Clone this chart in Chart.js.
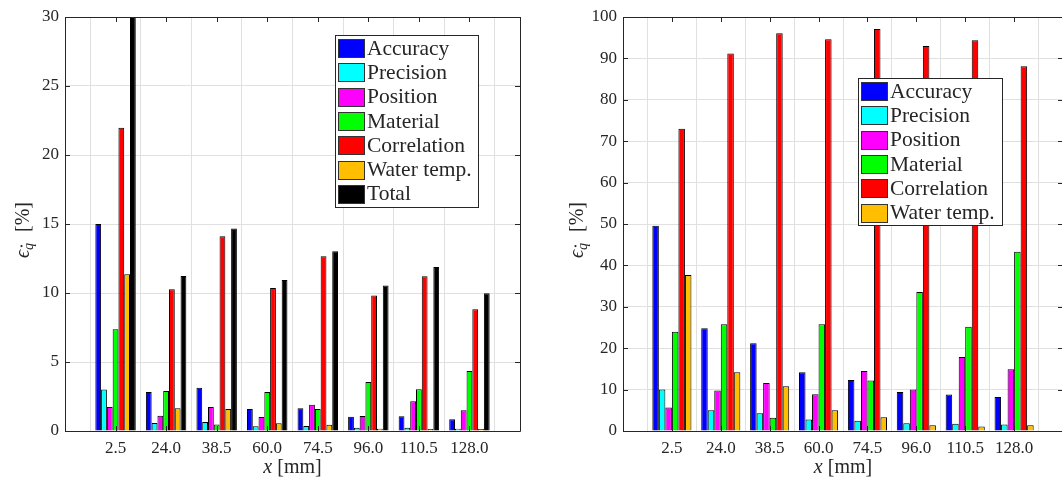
<!DOCTYPE html>
<html>
<head>
<meta charset="utf-8">
<script src="https://cdn.jsdelivr.net/npm/chart.js@4"></script>
<style>
  html, body { margin: 0; padding: 0; background: #fff; overflow: hidden; }
  #wrap { position: relative; width: 1062px; height: 479px; overflow: hidden; }
  .panel { position: absolute; top: 0; }
  #leftPanel { left: 0; }
  #rightPanel { left: 540px; }
</style>
</head>
<body>
<div id="wrap">
  <div class="panel" id="leftPanel"><canvas id="left" width="540" height="479"></canvas></div>
  <div class="panel" id="rightPanel"><canvas id="right" width="530" height="479"></canvas></div>
</div>
<script>
const xLabels = ['2.5', '24.0', '38.5', '60.0', '74.5', '96.0', '110.5', '128.0'];
const seriesNames = ['Accuracy', 'Precision', 'Position', 'Material', 'Correlation', 'Water temp.', 'Total'];
const seriesColors = ['#0000ff', '#00ffff', '#ff00ff', '#00ff00', '#ff0000', '#ffbf00', '#000000'];

// left panel, y in %
const accuracyL = [15.0, 2.83, 3.14, 1.60, 1.64, 1.04, 1.06, 0.85];
const precisionL = [3.0, 0.58, 0.65, 0.34, 0.36, 0.24, 0.24, 0.17];
const positionL = [1.74, 1.11, 1.74, 1.02, 1.91, 1.09, 2.15, 1.50];
const materialL = [7.37, 2.90, 0.48, 2.83, 1.60, 3.55, 3.02, 4.35];
const correlationL = [21.97, 10.27, 14.12, 10.37, 12.67, 9.81, 11.22, 8.82];
const waterL = [11.36, 1.64, 1.60, 0.56, 0.46, 0.17, 0.15, 0.15];
const totalL = [30.1, 11.24, 14.67, 10.95, 13.03, 10.54, 11.89, 9.98];

// right panel, y in %
const accuracyR = [49.6, 24.8, 21.2, 14.2, 12.3, 9.4, 8.8, 8.2];
const precisionR = [10.0, 5.0, 4.3, 2.8, 2.5, 1.85, 1.77, 1.6];
const positionR = [5.7, 9.8, 11.6, 8.9, 14.5, 10.0, 17.9, 14.9];
const materialR = [24.0, 25.8, 3.2, 25.8, 12.2, 33.6, 25.2, 43.3];
const correlationR = [73.0, 91.2, 96.1, 94.6, 97.1, 93.0, 94.4, 88.1];
const waterR = [37.7, 14.2, 10.8, 5.0, 3.3, 1.37, 1.1, 1.37];

const yTicksL = { max: 30, step: 5 };
const yTicksR = { max: 100, step: 10 };

const FONT = "'Liberation Serif', 'DejaVu Serif', serif";
const INK = '#262626';

// one empty slot each side so the first/last group sits a full step in from the box
const pad = arr => [null, ...arr, null];

function makeDatasets(series) {
  return series.map((d, i) => ({
    label: seriesNames[i],
    data: pad(d),
    backgroundColor: seriesColors[i],
    borderColor: '#000',
    borderWidth: 1,
    barPercentage: 1.0,
    categoryPercentage: 0.8,
    clip: 0
  }));
}

const frame = {
  id: 'frame',
  afterDraw(chart, args, opts) {
    const { ctx, chartArea: a, scales } = chart;
    ctx.save();

    // box + inward ticks
    ctx.strokeStyle = INK;
    ctx.lineWidth = 1;
    ctx.beginPath();
    ctx.rect(Math.round(a.left) + 0.5, Math.round(a.top) + 0.5, Math.round(a.width), Math.round(a.height));
    const tl = 5;
    scales.x.ticks.forEach((t, i) => {
      const px = Math.round(scales.x.getPixelForTick(i)) + 0.5;
      ctx.moveTo(px, a.top); ctx.lineTo(px, a.top + tl);
      ctx.moveTo(px, a.bottom); ctx.lineTo(px, a.bottom - tl);
    });
    scales.y.ticks.forEach((t, i) => {
      const py = Math.round(scales.y.getPixelForTick(i)) + 0.5;
      ctx.moveTo(a.left, py); ctx.lineTo(a.left + tl, py);
      ctx.moveTo(a.right, py); ctx.lineTo(a.right - tl, py);
    });
    ctx.stroke();

    // legend
    const L = opts.legend;
    const n = chart.data.datasets.length;
    ctx.fillStyle = '#fff';
    ctx.fillRect(L.x, L.y, L.w, L.h);
    ctx.strokeStyle = INK;
    ctx.strokeRect(L.x + 0.5, L.y + 0.5, L.w, L.h);
    ctx.font = '21.5px ' + FONT;
    ctx.textBaseline = 'middle';
    ctx.textAlign = 'left';
    for (let i = 0; i < n; i++) {
      const ds = chart.data.datasets[i];
      const cy = L.y + 13 + i * 24.3;
      ctx.fillStyle = ds.backgroundColor;
      ctx.fillRect(L.x + 3, Math.round(cy - 9), 26, 18);
      ctx.strokeStyle = '#333';
      ctx.strokeRect(L.x + 3.5, Math.round(cy - 9) + 0.5, 26, 18);
      ctx.fillStyle = INK;
      ctx.fillText(ds.label, L.x + 32, cy + 1);
    }

    // x axis title: italic x then [mm]
    const cx = (a.left + a.right) / 2;
    const by = opts.xTitleY;
    ctx.textBaseline = 'alphabetic';
    ctx.font = 'italic 20px ' + FONT;
    const wx = ctx.measureText('x').width;
    ctx.font = '20px ' + FONT;
    const wr = ctx.measureText(' [mm]').width;
    let x0 = cx - (wx + wr) / 2;
    ctx.fillStyle = INK;
    ctx.font = 'italic 20px ' + FONT;
    ctx.fillText('x', x0, by);
    ctx.font = '20px ' + FONT;
    ctx.fillText(' [mm]', x0 + wx, by);

    // y axis title: eps with dotted q subscript, then [%]
    ctx.translate(opts.yTitleX, opts.yTitleY);
    ctx.rotate(-Math.PI / 2);
    ctx.font = 'italic 20px ' + FONT;
    const we = ctx.measureText('\u03f5').width;
    ctx.font = 'italic 14px ' + FONT;
    const wq = ctx.measureText('q').width;
    ctx.font = '20px ' + FONT;
    const wp = ctx.measureText('  [%]').width;
    x0 = -(we + wq + 1 + wp) / 2;
    ctx.font = 'italic 20px ' + FONT;
    ctx.fillText('\u03f5', x0, 0);
    ctx.font = 'italic 14px ' + FONT;
    ctx.fillText('q', x0 + we, 4);
    ctx.beginPath();
    ctx.arc(x0 + we + wq * 0.55, -7.5, 1.1, 0, Math.PI * 2);
    ctx.fill();
    ctx.font = '20px ' + FONT;
    ctx.fillText('  [%]', x0 + we + wq + 1, 0);

    ctx.restore();
  }
};

function makeChart(id, series, yt, axisW, rightPad, legendBox, yTitleX) {
  return new Chart(document.getElementById(id), {
    type: 'bar',
    data: { labels: ['', ...xLabels, ''], datasets: makeDatasets(series) },
    options: {
      responsive: false,
      animation: false,
      layout: { padding: { left: 0, right: rightPad, top: 17, bottom: 0 } },
      scales: {
        x: {
          type: 'category',
          offset: false,
          grid: { color: '#e0e0e0', drawTicks: false },
          border: { display: false },
          ticks: { font: { family: FONT, size: 17 }, color: INK, padding: 7, autoSkip: false, maxRotation: 0 },
          afterFit: s => { s.height = 48; }
        },
        y: {
          min: 0,
          max: yt.max,
          grid: { color: '#e0e0e0', drawTicks: false },
          border: { display: false },
          ticks: { stepSize: yt.step, font: { family: FONT, size: 17 }, color: INK, padding: 6 },
          afterFit: s => { s.width = axisW; }
        }
      },
      plugins: {
        legend: { display: false },
        tooltip: { enabled: false },
        frame: { legend: legendBox, xTitleY: 473, yTitleX: yTitleX, yTitleY: 230 }
      }
    },
    plugins: [frame]
  });
}

makeChart('left',
  [accuracyL, precisionL, positionL, materialL, correlationL, waterL, totalL],
  yTicksL, 65, 20, { x: 335, y: 35, w: 143, h: 172 }, 29);

makeChart('right',
  [accuracyR, precisionR, positionR, materialR, correlationR, waterR],
  yTicksR, 83, 3, { x: 318, y: 78, w: 144, h: 147 }, 43);
</script>
</body>
</html>
